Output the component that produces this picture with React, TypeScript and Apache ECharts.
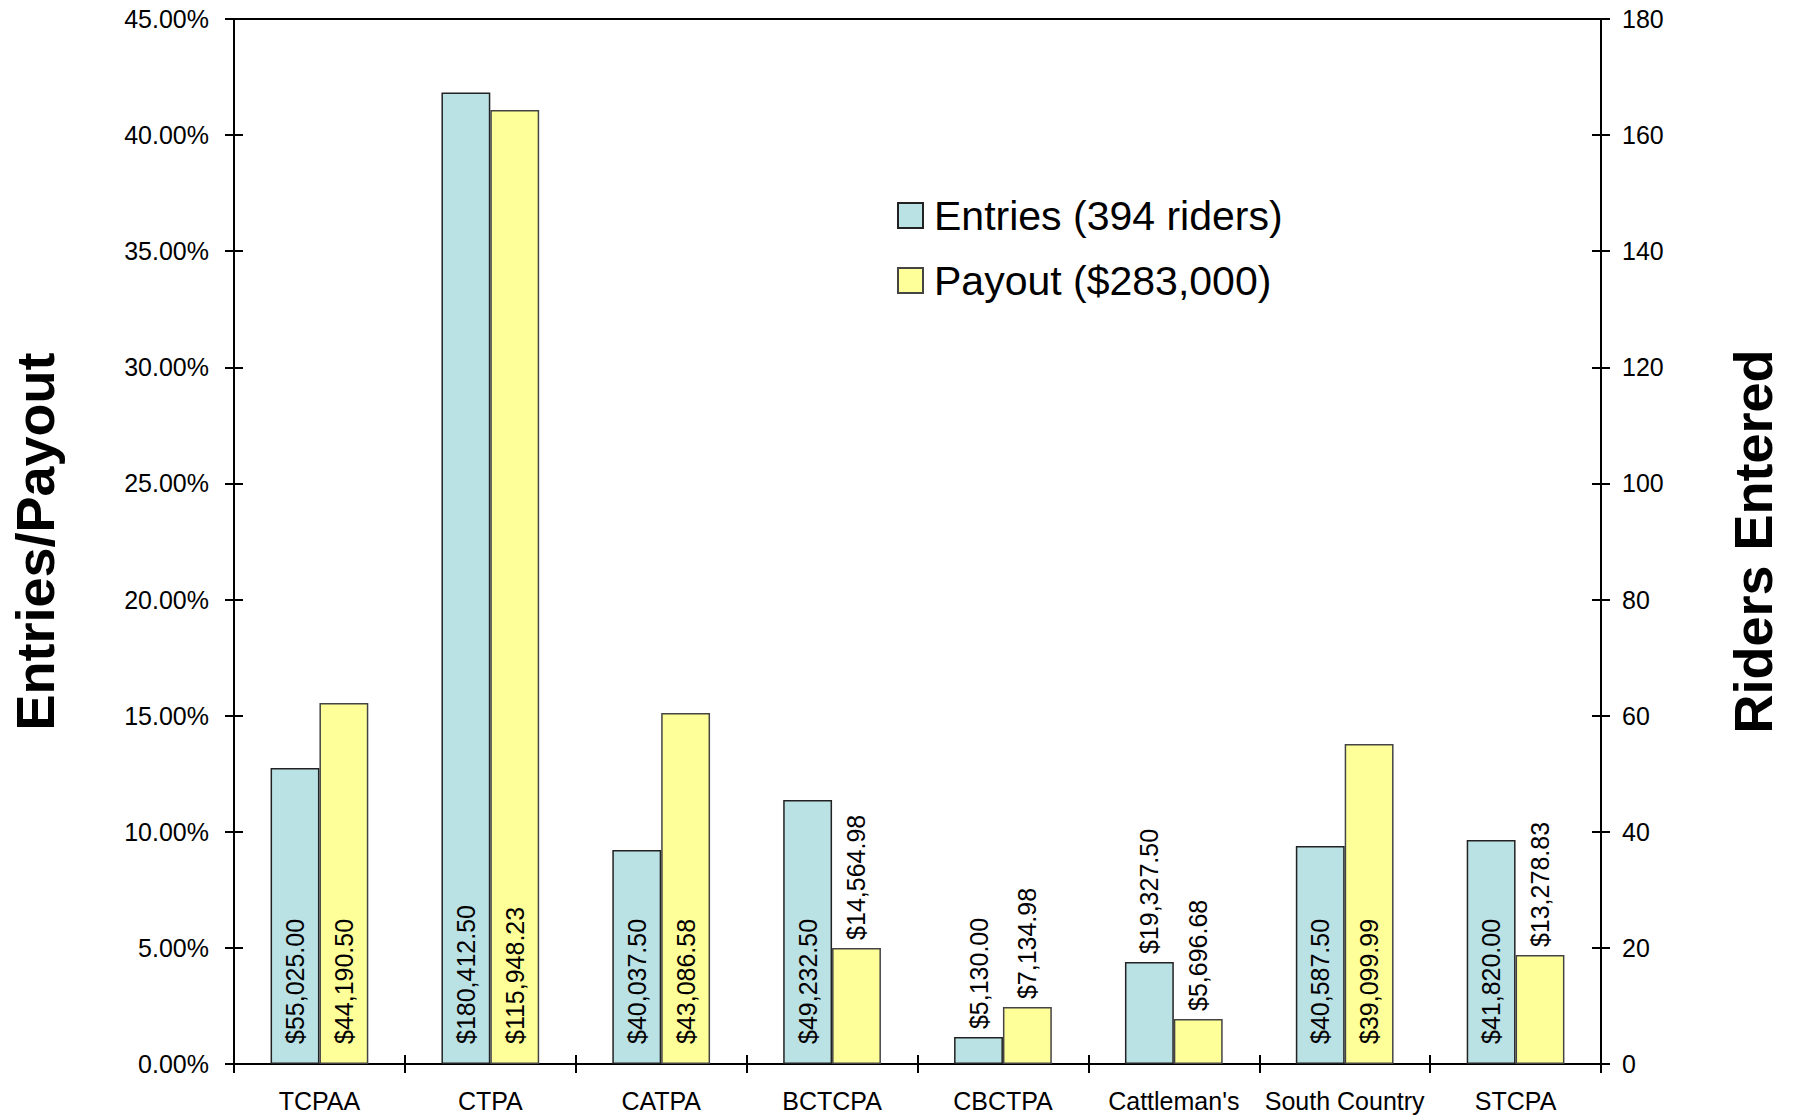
import React, { useEffect, useRef } from "react";
import * as echarts from "echarts";

const categories = ["TCPAA", "CTPA", "CATPA", "BCTCPA", "CBCTPA", "Cattleman's", "South Country", "STCPA"];
const entriesPct = [12.75, 41.83, 9.22, 11.37, 1.16, 4.39, 9.39, 9.65];
const payoutPct = [15.55, 41.08, 15.12, 5.0, 2.45, 1.94, 13.78, 4.69];
const entriesDollars = [55025.0, 180412.5, 40037.5, 49232.5, 5130.0, 19327.5, 40587.5, 41820.0];
const payoutDollars = [44190.5, 115948.23, 43086.58, 14564.98, 7134.98, 5696.68, 39099.99, 13278.83];
const seriesNames = ["Entries (394 riders)", "Payout ($283,000)"];
const leftAxisName = "Entries/Payout";
const rightAxisName = "Riders Entered";
const leftMin = 0, leftMax = 45, leftStep = 5;
const rightMin = 0, rightMax = 180, rightStep = 20;

const FONT = "'Liberation Sans', Arial, sans-serif";

const fmtDollar = (v: number) =>
  "$" + v.toLocaleString("en-US", { minimumFractionDigits: 2, maximumFractionDigits: 2 });

function makeData(values: number[], dollars: number[]) {
  return values.map((v, i) => {
    const outside = v < 7;
    return {
      value: v,
      label: {
        show: true,
        formatter: fmtDollar(dollars[i]),
        position: outside ? "top" : "insideBottom",
        distance: outside ? 8 : 20,
        rotate: 90,
        align: "left",
        verticalAlign: "middle",
        color: "#000",
        fontSize: 25,
        fontFamily: FONT,
      },
    };
  });
}

export default function App() {
  const ref = useRef<HTMLDivElement>(null);
  useEffect(() => {
    if (!ref.current) return;
    const chart = echarts.init(ref.current, null, { renderer: "svg" });
    const axisLine = { show: true, lineStyle: { color: "#000", width: 2 } };
    const tickStyle = { color: "#000", width: 2 };
    chart.setOption({
      animation: false,
      backgroundColor: "#fff",
      grid: {
        left: 230,
        right: 196,
        top: 19,
        bottom: 55,
        show: true,
        borderColor: "#000",
        borderWidth: 2,
        containLabel: false,
      },
      legend: {
        orient: "vertical",
        left: 892,
        top: 190,
        itemWidth: 25,
        itemHeight: 25,
        itemGap: 24,
        icon: "rect",
        selectedMode: false,
        textStyle: { fontSize: 41, fontFamily: FONT, color: "#000", lineHeight: 41, padding: [0, 0, 0, 6] },
        data: seriesNames,
      },
      xAxis: [
        {
          type: "category",
          data: categories,
          position: "bottom",
          axisLine,
          axisTick: { show: true, inside: false, length: 9, lineStyle: tickStyle },
          axisLabel: { color: "#000", fontSize: 25, fontFamily: FONT, margin: 24, interval: 0 },
          splitLine: { show: false },
        },
        {
          type: "category",
          data: categories,
          position: "bottom",
          offset: 0,
          axisLine: { show: false },
          axisTick: { show: true, inside: true, length: 9, lineStyle: tickStyle },
          axisLabel: { show: false },
          splitLine: { show: false },
        },
      ],
      yAxis: [
        {
          type: "value",
          position: "left",
          min: leftMin,
          max: leftMax,
          interval: leftStep,
          name: leftAxisName,
          nameLocation: "middle",
          nameRotate: 90,
          nameGap: 172,
          nameTextStyle: { fontSize: 54, fontWeight: "bold", fontFamily: FONT, color: "#000" },
          axisLine,
          axisTick: { show: true, inside: false, length: 9, lineStyle: tickStyle },
          axisLabel: {
            color: "#000",
            fontSize: 25,
            fontFamily: FONT,
            margin: 25,
            formatter: (v: number) => v.toFixed(2) + "%",
          },
          splitLine: { show: false },
        },
        {
          type: "value",
          position: "right",
          min: rightMin,
          max: rightMax,
          interval: rightStep,
          name: rightAxisName,
          nameLocation: "middle",
          nameRotate: 90,
          nameGap: 125,
          nameTextStyle: { fontSize: 54, fontWeight: "bold", fontFamily: FONT, color: "#000" },
          axisLine,
          axisTick: { show: true, inside: false, length: 9, lineStyle: tickStyle },
          axisLabel: { color: "#000", fontSize: 25, fontFamily: FONT, margin: 21 },
          splitLine: { show: false },
        },
        {
          type: "value",
          position: "left",
          offset: 0,
          min: leftMin,
          max: leftMax,
          interval: leftStep,
          axisLine: { show: false },
          axisTick: { show: true, inside: true, length: 9, lineStyle: tickStyle },
          axisLabel: { show: false },
          splitLine: { show: false },
        },
        {
          type: "value",
          position: "right",
          offset: 0,
          min: rightMin,
          max: rightMax,
          interval: rightStep,
          axisLine: { show: false },
          axisTick: { show: true, inside: true, length: 9, lineStyle: tickStyle },
          axisLabel: { show: false },
          splitLine: { show: false },
        },
      ],
      series: [
        {
          name: seriesNames[0],
          type: "bar",
          xAxisIndex: 0,
          yAxisIndex: 0,
          barGap: "0%",
          barCategoryGap: "42.8%",
          itemStyle: { color: "#BAE1E4", borderColor: "#222", borderWidth: 1.5 },
          data: makeData(entriesPct, entriesDollars),
        },
        {
          name: seriesNames[1],
          type: "bar",
          xAxisIndex: 0,
          yAxisIndex: 0,
          barGap: "0%",
          barCategoryGap: "42.8%",
          itemStyle: { color: "#FFFF99", borderColor: "#444", borderWidth: 1.5 },
          data: makeData(payoutPct, payoutDollars),
        },
      ],
    });
    return () => chart.dispose();
  }, []);
  return (
    <div
      ref={ref}
      style={{ position: "fixed", left: 0, top: 0, width: 1797, height: 1119, background: "#fff" }}
    />
  );
}
